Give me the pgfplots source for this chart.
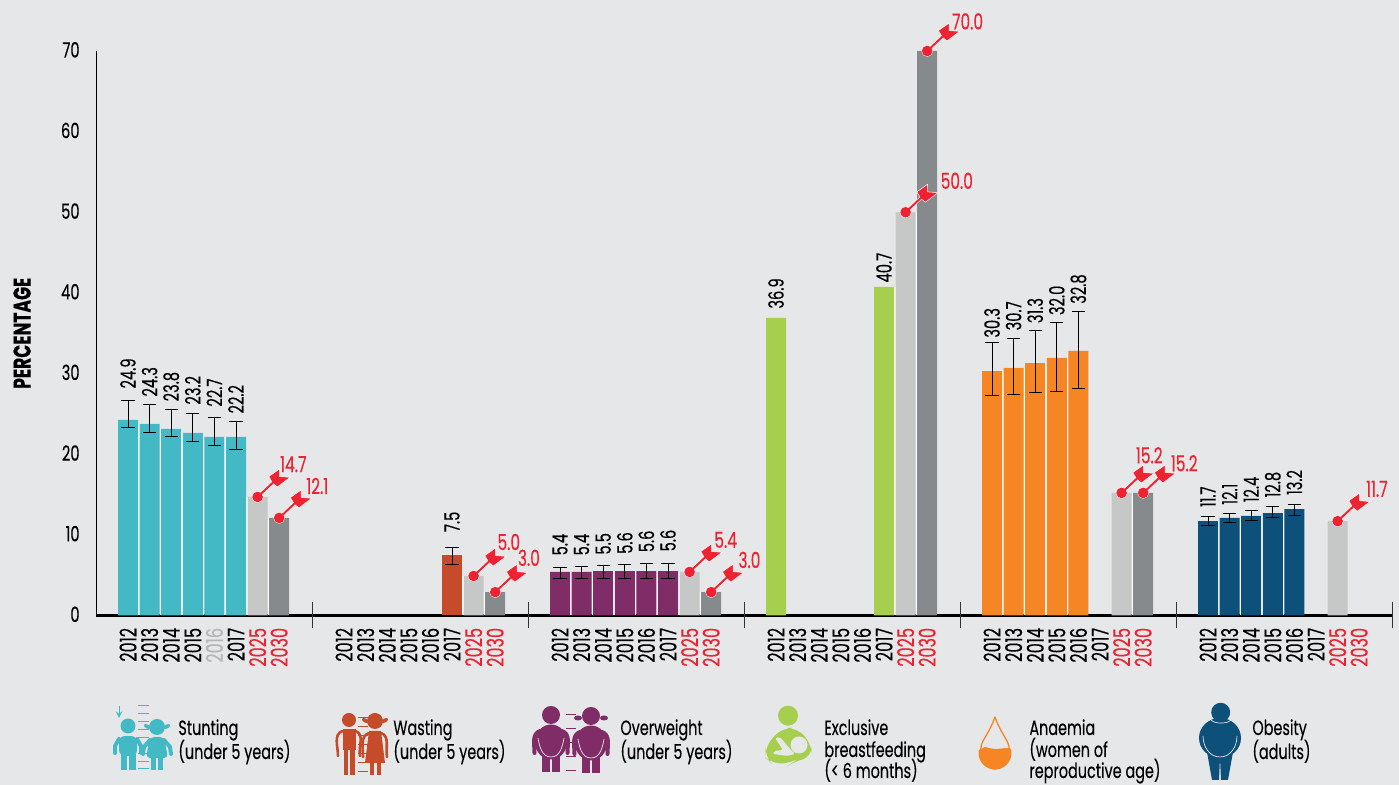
\documentclass[border=0pt]{standalone}
\usepackage{pgfplots}
\pgfplotsset{compat=1.18}
\usepackage{fontspec}
\setmainfont[FakeStretch=0.7,FakeBold=0.25]{Poppins}
\definecolor{bg}{HTML}{E6E7E9}
\definecolor{cteal}{HTML}{44B9C6}
\definecolor{cbrown}{HTML}{C54B2A}
\definecolor{cpurple}{HTML}{7F2C67}
\definecolor{cgreen}{HTML}{A7CF4E}
\definecolor{corange}{HTML}{F68524}
\definecolor{cnavy}{HTML}{0D5079}
\definecolor{clight}{HTML}{C6C8C7}
\definecolor{cdark}{HTML}{868A8C}
\definecolor{cred}{HTML}{EE2230}
\definecolor{cfade}{HTML}{B4B6B7}
\pgfdeclareplotmark{dart}{%
  \pgfsetlinewidth{1.5pt}\pgfsetstrokecolor{white}\pgfsetroundcap
  \pgfpathmoveto{\pgfpoint{0pt}{0pt}}\pgfpathlineto{\pgfpoint{8pt}{7.5pt}}\pgfusepath{stroke}
  \pgfsetfillcolor{cred}\pgfsetlinewidth{.25pt}
  \pgfpathcircle{\pgfpointorigin}{2.75pt}\pgfusepath{fill,stroke}
  \pgfpathmoveto{\pgfpoint{5.6pt}{10.2pt}}
  \pgfpathlineto{\pgfpoint{11pt}{14pt}}
  \pgfpathlineto{\pgfpoint{11pt}{10.2pt}}
  \pgfpathlineto{\pgfpoint{16.2pt}{9.8pt}}
  \pgfpathlineto{\pgfpoint{9.85pt}{5pt}}
  \pgfpathlineto{\pgfpoint{7.5pt}{7pt}}
  \pgfpathclose\pgfusepath{fill,stroke}
  \pgfsetlinewidth{1pt}\pgfsetstrokecolor{cred}
  \pgfpathmoveto{\pgfpoint{0pt}{0pt}}\pgfpathlineto{\pgfpoint{8pt}{7.5pt}}\pgfusepath{stroke}
  \pgfpathcircle{\pgfpointorigin}{2.6pt}\pgfusepath{fill}
}
\newcommand{\boy}[3]{\begin{scope}[shift={(#1,#2)},fill=#3,draw=#3]
  \fill (0,0) circle (7.5);
  \fill[rounded corners=3] (-9,10) rectangle (9,30);
  \fill (-7.5,28) rectangle (-1,44);\fill (1,28) rectangle (7.5,44);
  \draw[line width=2pt,line cap=round,line join=round] (-9,13) -- (-13,20) -- (-13,27);
  \draw[line width=2pt,line cap=round,line join=round] (9,13) -- (13,20) -- (13,27);
\end{scope}}
\newcommand{\girl}[3]{\begin{scope}[shift={(#1,#2)},fill=#3,draw=#3]
  \fill (0,0) circle (8);
  \fill[rotate around={-30:(-9,0)}] (-10,0) ellipse (3.5 and 2);\fill[rotate around={30:(9,0)}] (10,0) ellipse (3.5 and 2);
  \fill[rounded corners=2] (-7,10) -- (7,10) -- (11,31) -- (-11,31) -- cycle;
  \fill (-6,30) rectangle (-1,43);\fill (1,30) rectangle (6,43);
  \draw[line width=2pt,line cap=round,line join=round] (-7,13) -- (-13,20) -- (-14,27);
  \draw[line width=2pt,line cap=round,line join=round] (7,13) -- (13,20) -- (14,27);
\end{scope}}
\newcommand{\thinkid}[3]{\begin{scope}[shift={(#1,#2)},fill=#3,draw=#3]
  \fill (0,0) circle (7);
  \fill (-6.5,9) rectangle (6.5,30);
  \fill (-5.5,29) rectangle (-1,55);\fill (1,29) rectangle (5.5,55);
  \draw[line width=1.3pt,line cap=round] (-6.5,11) to[out=200,in=90] (-11,36);
  \draw[line width=1.3pt,line cap=round] (6.5,11) to[out=-20,in=100] (11,36);
\end{scope}}
\newcommand{\thingirl}[3]{\begin{scope}[shift={(#1,#2)},fill=#3,draw=#3]
  \fill (0,0) circle (8);
  \fill[rotate around={-30:(-9,0)}] (-10,0) ellipse (3.5 and 2);\fill[rotate around={30:(9,0)}] (10,0) ellipse (3.5 and 2);
  \fill (-6,10) -- (6,10) -- (10,42) -- (-10,42) -- cycle;
  \fill (-5.5,41) rectangle (-1.5,54);\fill (1.5,41) rectangle (5.5,54);
  \draw[line width=1.3pt,line cap=round] (-6,12) to[out=200,in=90] (-12,36);
  \draw[line width=1.3pt,line cap=round] (6,12) to[out=-20,in=100] (12,36);
\end{scope}}
\newcommand{\fatkid}[3]{\begin{scope}[shift={(#1,#2)},fill=#3,draw=#3]
  \fill (0,0) circle (9);
  \fill (0,27) ellipse (16 and 17.5);
  \fill (-9,38) rectangle (-1,57);\fill (1,38) rectangle (9,57);
  \draw[line width=2pt,line cap=round] (-11,16) to[out=200,in=90] (-16.5,38);
  \draw[line width=2pt,line cap=round] (11,16) to[out=-20,in=90] (16.5,38);
  \draw[bg,line width=.35pt] (-13,23) to[out=-80,in=180] (0,42) to[out=0,in=-100] (13,23);
\end{scope}}
\newcommand{\legtext}[2]{\node[anchor=base west,inner sep=0,font=\fontsize{10.3}{13}\selectfont] at (#1) {#2};}
\begin{document}
\begin{tikzpicture}
\useasboundingbox (0,0) rectangle (699.5pt,392.5pt);
\fill[bg] (0,0) rectangle (699.5pt,392.5pt);
\begin{axis}[
  at={(48pt,84.75pt)},anchor=south west,
  scale only axis,width=648.5pt,height=282.25pt,
  xmin=-1.4815,xmax=58.565,ymin=0,ymax=70,clip=false,
  axis x line=bottom,axis y line=left,
  axis line style={-},
  x axis line style={line width=1.3pt},
  y axis line style={line width=.5pt},
  ytick={0,10,...,70},
  yticklabel style={font=\fontsize{10.5}{11}\selectfont,inner sep=0,xshift=-8pt,yshift=.6pt,/pgf/number format/assume math mode=true},
  ytick style={draw=none},
  major tick length=0pt,
  xtick={0,1,2,3,4,5,6,7,10,11,12,13,14,15,16,17,20,21,22,23,24,25,26,27,30,31,32,33,34,35,36,37,40,41,42,43,44,45,46,47,50,51,52,53,54,55,56,57},
  xticklabels={2012,2013,2014,2015,\textcolor{cfade}{2016},2017,\textcolor{cred}{2025},\textcolor{cred}{2030},
  2012,2013,2014,2015,2016,2017,\textcolor{cred}{2025},\textcolor{cred}{2030},
  2012,2013,2014,2015,2016,2017,\textcolor{cred}{2025},\textcolor{cred}{2030},
  2012,2013,2014,2015,2016,2017,\textcolor{cred}{2025},\textcolor{cred}{2030},
  2012,2013,2014,2015,2016,2017,\textcolor{cred}{2025},\textcolor{cred}{2030},
  2012,2013,2014,2015,2016,2017,\textcolor{cred}{2025},\textcolor{cred}{2030}},
  xticklabel style={rotate=90,anchor=east,inner sep=0,xshift=-6pt,font=\fontsize{11.5}{11}\selectfont,/pgf/number format/assume math mode=true},
  extra x ticks={8.5185,18.5185,28.5185,38.5185,48.5185,58.5185},
  extra x tick labels={},
  extra x tick style={major tick length=13pt,tick style={draw=black!80,line width=.5pt}},
  ylabel={\bfseries PERCENTAGE},
  every axis y label/.style={at={(axis description cs:-0.057,0.5)},rotate=90,anchor=center,font=\fontsize{12.2}{14}\selectfont},
  error bars/error bar style={black,line width=.45pt},
  error bars/error mark options={rotate=90,mark size=3.3pt,line width=.45pt,black},
  bars/.style={ybar,bar shift=0pt,bar width=10pt,draw=none,forget plot},
  vals/.style={only marks,mark=none,forget plot,point meta=explicit symbolic,nodes near coords,
     every node near coord/.append style={rotate=90,anchor=west,inner sep=0,font=\fontsize{10.5}{11}\selectfont,black}},
  reds/.style={only marks,mark=none,forget plot,point meta=explicit symbolic,nodes near coords,
     every node near coord/.append style={anchor=center,inner sep=0,font=\fontsize{11}{11}\selectfont,cred}},
]
% white gaps between neighbouring bars
\addplot[ycomb,white,line width=.8pt,forget plot] coordinates {
(0.5,23.75)(1.5,23.15)(2.5,22.65)(3.5,22.15)(4.5,22.15)(5.5,14.7)(6.5,12.1)
(15.5,4.9)(16.5,2.9)
(20.5,5.4)(21.5,5.4)(22.5,5.5)(23.5,5.5)(24.5,5.5)(25.5,5.4)(26.5,2.9)
(35.5,40.75)(36.5,50)
(40.5,30.3)(41.5,30.7)(42.5,31.3)(43.5,31.95)(46.5,15.2)
(50.5,11.7)(51.5,12.1)(52.5,12.35)(53.5,12.7)};
% Stunting
\addplot[bars,fill=cteal,error bars/.cd,y dir=both,y explicit] table[x=x,y=y,y error plus expr=\thisrow{hi}-\thisrow{y},y error minus expr=\thisrow{y}-\thisrow{lo}] {
x y hi lo
0 24.25 26.7 23.35
1 23.75 26.15 22.7
2 23.15 25.6 22.2
3 22.65 25.1 21.6
4 22.15 24.6 21.1
5 22.15 24.1 20.6
};
% Wasting
\addplot[bars,fill=cbrown,error bars/.cd,y dir=both,y explicit] table[x=x,y=y,y error plus expr=\thisrow{hi}-\thisrow{y},y error minus expr=\thisrow{y}-\thisrow{lo}] {
x y hi lo
15 7.5 8.4 6.3
};
% Overweight
\addplot[bars,fill=cpurple,error bars/.cd,y dir=both,y explicit] table[x=x,y=y,y error plus expr=\thisrow{hi}-\thisrow{y},y error minus expr=\thisrow{y}-\thisrow{lo}] {
x y hi lo
20 5.4 6.0 4.6
21 5.4 6.1 4.6
22 5.5 6.2 4.65
23 5.5 6.3 4.65
24 5.5 6.4 4.65
25 5.5 6.5 4.65
};
% Breastfeeding
\addplot[bars,fill=cgreen] coordinates {(30,36.9) (35,40.75)};
% Anaemia
\addplot[bars,fill=corange,error bars/.cd,y dir=both,y explicit] table[x=x,y=y,y error plus expr=\thisrow{hi}-\thisrow{y},y error minus expr=\thisrow{y}-\thisrow{lo}] {
x y hi lo
40 30.3 33.8 27.3
41 30.7 34.4 27.4
42 31.3 35.3 27.6
43 31.95 36.3 27.8
44 32.8 37.75 28.2
};
% Obesity
\addplot[bars,fill=cnavy,error bars/.cd,y dir=both,y explicit] table[x=x,y=y,y error plus expr=\thisrow{hi}-\thisrow{y},y error minus expr=\thisrow{y}-\thisrow{lo}] {
x y hi lo
50 11.7 12.25 11.15
51 12.1 12.7 11.5
52 12.35 13.05 11.8
53 12.7 13.55 12.2
54 13.2 13.8 12.4
};
% Targets
\addplot[bars,fill=clight] coordinates {(6,14.7) (16,4.9) (26,5.4) (36,50) (46,15.2) (56,11.7)};
\addplot[bars,fill=cdark] coordinates {(7,12.1) (17,2.9) (27,2.9) (37,70) (47,15.2)};
\addplot[only marks,mark=dart,forget plot] coordinates {(6,14.7) (7,12.1) (16,4.9) (17,2.9) (26,5.4) (27,2.9) (36,50) (37,70) (46,15.2) (47,15.2) (56,11.7)};
% Value labels
\addplot[vals] table[x=x,y=y,meta=l] {
x y l
0 28.1 24.9
1 27.1 24.3
2 26.5 23.8
3 26.1 23.2
4 25.85 22.7
5 25.0 22.2
15 10.3 7.5
20 7.4 5.4
21 7.4 5.4
22 7.5 5.5
23 7.6 5.6
24 7.8 5.6
25 7.9 5.6
30 38.0 36.9
35 41.25 40.7
40 34.4 30.3
41 35.3 30.7
42 36.2 31.3
43 37.2 32.0
44 38.6 32.8
50 13.4 11.7
51 13.7 12.1
52 14.0 12.4
53 14.6 12.8
54 14.9 13.2
};
\addplot[reds] table[x=x,y=y,meta=l] {
x y l
7.653 18.76 14.7
8.764 16.06 12.1
17.63 9.11 5.0
18.56 7.15 3.0
27.67 9.37 5.4
28.77 6.89 3.0
38.87 73.67 70.0
38.37 53.9 50.0
47.28 19.87 15.2
48.90 18.88 15.2
57.82 15.7 11.7
};
\end{axis}
\begin{scope}[shift={(0,392.5pt)},x=.5pt,y=-.5pt]
% Stunting icon
\foreach \yy in {706,714,722,730,738,746,754,762,769}{\draw[cteal,line width=.5pt] (138,\yy) -- (149,\yy);}
\draw[cteal,line width=.5pt,->,>=stealth] (119,706) -- (119,718);
\boy{128}{726}{cteal}
\girl{157}{727}{cteal}
\legtext{178,735}{Stunting}
\legtext{178,759}{(under 5 years)}
% Wasting icon
\foreach \yy in {718,727,736,745,754,763,772}{\draw[cbrown,line width=.5pt] (358,\yy) -- (368,\yy);}
\thinkid{349}{720}{cbrown}
\thingirl{375}{721}{cbrown}
\legtext{393,735}{Wasting}
\legtext{393,759}{(under 5 years)}
% Overweight icon
\foreach \yy in {715,729,743,757,771}{\draw[cpurple,line width=.5pt] (566,\yy) -- (576,\yy);}
\fatkid{551}{715}{cpurple}
\fatkid{591}{716}{cpurple}
\fill[cpurple] (578,718) ellipse (4 and 2.5);\fill[cpurple] (604,718) ellipse (4 and 2.5);
\legtext{620,735}{Overweight}
\legtext{620,759}{(under 5 years)}
% Breastfeeding icon
\fill[cgreen] (788,715.7) circle (10);
\fill[cgreen,rounded corners=5] (782,728) -- (797,728) -- (811,743) -- (812,757) -- (795,761) -- (792,763) -- (772,764) -- (765,757) -- (766,745) -- cycle;
\fill[bg] (799,745) circle (8.5);
\fill[bg,rounded corners=1] (775,738) -- (780,737) -- (791,750) -- (795,754) -- (788,756) -- (773,754) -- (774,751) -- (783,750) -- cycle;
\legtext{824,735}{Exclusive}
\legtext{824,757}{breastfeeding}
\legtext{824,778}{(< 6 months)}
% Anaemia icon
\begin{scope}
\clip (975,752) -- (985,747) to[out=-10,in=180] (995,749) to[out=0,in=180] (1008,748) -- (1020,752) -- (1020,780) -- (975,780) -- cycle;
\fill[corange] (995,753) circle (16.5);
\end{scope}
\draw[corange,line width=.65pt,line join=round] (995,717) to[out=-70,in=120] (1007,741) to[out=-60,in=0] (995,769) to[out=180,in=-120] (983,741) to[out=60,in=-110] cycle;
\legtext{1029,735}{Anaemia}
\legtext{1029,757}{(women of}
\legtext{1029,778}{reproductive age)}
% Obesity icon
\fill[cnavy] (1220,738) ellipse (21 and 20);
\fill[cnavy] (1207,752) -- (1233,752) -- (1228,780) -- (1221,780) -- (1220,758) -- (1219,780) -- (1212,780) -- cycle;
\draw[bg,line width=.35pt] (1211,720) to[out=-40,in=180] (1221,723) to[out=0,in=220] (1231,720);
\fill[cnavy] (1220.7,712.3) circle (9.5);
\draw[bg,line width=.35pt] (1203,736) to[out=-90,in=180] (1220,757) to[out=0,in=-90] (1237,736);
\legtext{1252,735}{Obesity}
\legtext{1252,759}{(adults)}
\end{scope}
\end{tikzpicture}
\end{document}
